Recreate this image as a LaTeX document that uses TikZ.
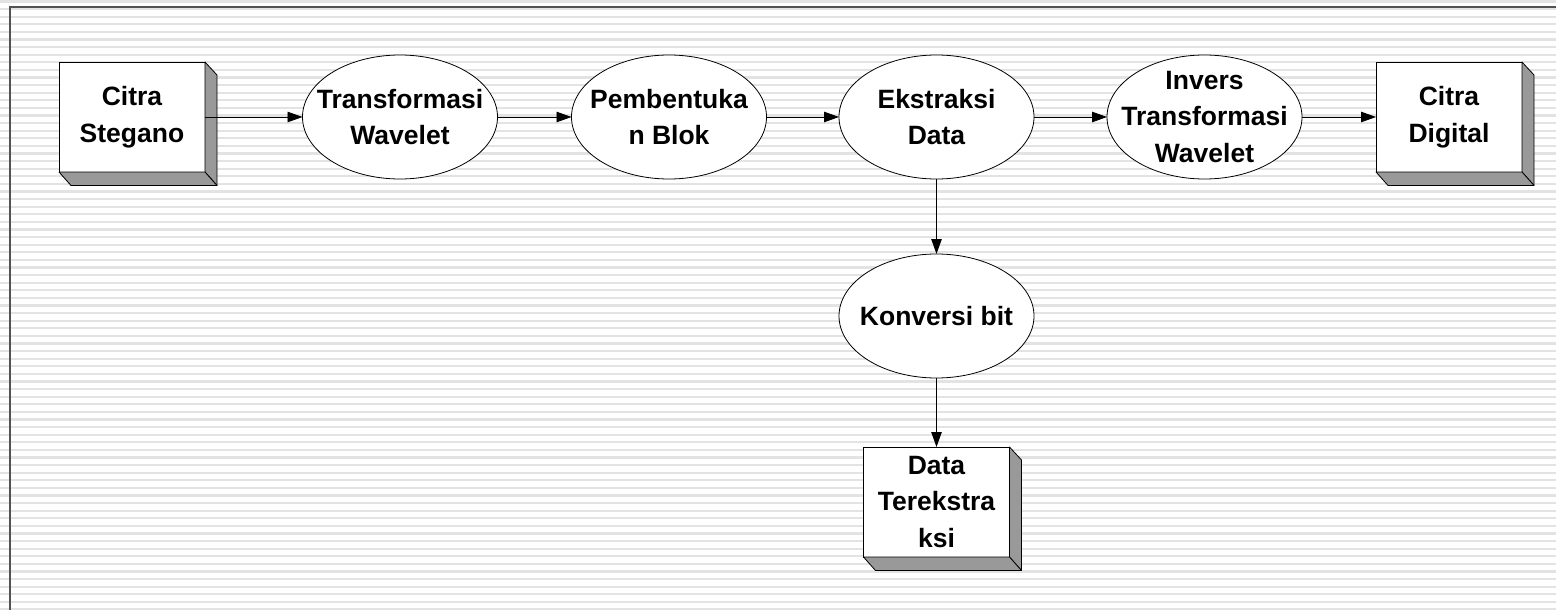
\documentclass[tikz,border=0pt]{standalone}
\usepackage{fontspec}
\setmainfont{Liberation Sans}
\usetikzlibrary{shapes.geometric,arrows.meta}

\newcommand\boxfont{\fontsize{26.5}{36.7}\selectfont\bfseries}

\tikzset{
  stripe/.style={draw=gray!22, line width=2.2pt},
  frameline/.style={draw=black!68, line width=1.4pt},
  slab/.style={draw=black, fill=white, line width=0.8pt, minimum width=146pt,
    minimum height=110pt, inner sep=0pt, outer sep=0pt, align=center, font=\boxfont},
  slabside/.style={draw=black, fill=black!40, line width=0.8pt, line join=round},
  oval/.style={draw=black, fill=white, ellipse, line width=0.8pt, minimum width=195pt,
    minimum height=124pt, inner sep=0pt, outer sep=0pt},
  ovaltext/.style={align=center, font=\boxfont, inner sep=0pt},
  flow/.style={draw=black, line width=0.9pt, -{Triangle[length=15pt,width=10.5pt]}},
}

\begin{document}
\begin{tikzpicture}[x=1pt,y=-1pt]
  \useasboundingbox (0,0) rectangle (1556,610);
  \fill[white] (0,0) rectangle (1556,610);
  % ruled background
  \foreach \k in {0,...,80}
    \draw[stripe] (0,{1.5+7.6*\k}) -- (1556,{1.5+7.6*\k});
  \draw[frameline] (1556,7) -- (10,7) -- (10,610);

  % process nodes
  \node[slab] (cs) at (132,117) {Citra\\Stegano};
  \node[oval, label={[ovaltext]center:Transformasi\\Wavelet}] (tw) at (400,117) {};
  \node[oval, label={[ovaltext]center:Pembentuka\\n Blok}] (pb) at (669,117) {};
  \node[oval, label={[ovaltext]center:Ekstraksi\\Data}] (ed) at (936.5,117) {};
  \node[oval, label={[ovaltext]center:Invers\\Transformasi\\Wavelet}] (iw) at (1204.5,117) {};
  \node[slab] (cd) at (1449,117) {Citra\\Digital};
  \node[oval, label={[ovaltext]center:Konversi bit}] (kb) at (936.5,316) {};
  \node[slab] (dt) at (936.5,502) {Data\\Terekstra\\ksi};

  % extruded sides of the slabs
  \foreach \b in {cs,cd,dt} {
    \filldraw[slabside] (\b.north east) -- ([shift={(12,13)}]\b.north east)
      -- ([shift={(12,13.5)}]\b.south east) -- (\b.south east) -- cycle;
    \filldraw[slabside] (\b.south west) -- ([shift={(12,13.5)}]\b.south west)
      -- ([shift={(12,13.5)}]\b.south east) -- (\b.south east) -- cycle;
  }

  % connectors
  \draw[flow] (cs) -- (tw);
  \draw[flow] (tw) -- (pb);
  \draw[flow] (pb) -- (ed);
  \draw[flow] (ed) -- (iw);
  \draw[flow] (iw) -- (cd);
  \draw[flow] (ed) -- (kb);
  \draw[flow] (kb) -- (dt);
\end{tikzpicture}
\end{document}
